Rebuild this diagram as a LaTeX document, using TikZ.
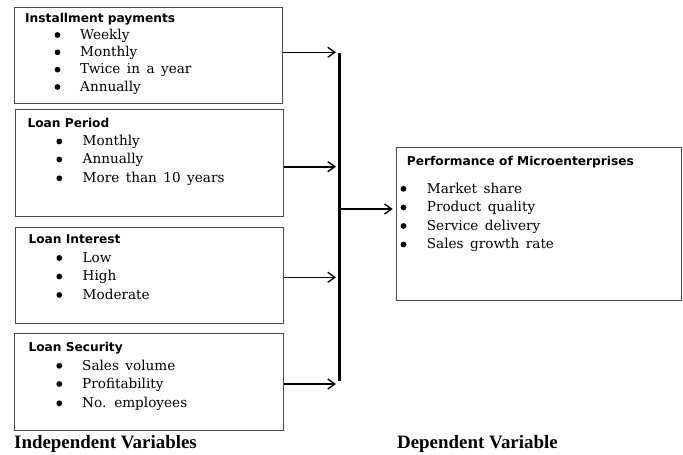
\documentclass[tikz,border=0pt]{standalone}
\usepackage{fontspec}
\setmainfont{DejaVu Serif}
\newfontfamily\itemfont{DejaVu Serif}[WordSpace=1.5]
\newfontfamily\headfont{DejaVu Sans}
\newfontfamily\labfont{Liberation Serif}
\usetikzlibrary{arrows.meta}
\tikzset{
  box/.style={draw=black!70, line width=1pt, inner sep=0pt, anchor=north west},
  head/.style={anchor=base west, inner sep=0pt, font=\headfont\bfseries\fontsize{12.2}{14}\selectfont},
  itemtxt/.style={anchor=base west, inner sep=0pt, yshift=-4.3pt, font=\itemfont\fontsize{13.6}{15}\selectfont},
  dotb/.style={circle, fill=black, inner sep=0pt, minimum size=5.8pt},
  lab/.style={anchor=base west, inner sep=0pt, font=\labfont\bfseries\fontsize{18.9}{21}\selectfont},
  arr/.style={line width=1.6pt, -{Straight Barb[length=7pt, width=10pt, line width=1.4pt]}},
  vline/.style={line width=2.4pt}
}
\begin{document}
\begin{tikzpicture}[x=1pt,y=-1pt]
\useasboundingbox (0,0) rectangle (683,455);
% boxes
\node[box, minimum width=268pt, minimum height=96pt] (b1) at (14,6.5) {};
\node[box, minimum width=268pt, minimum height=107pt] (b2) at (15,109.3) {};
\node[box, minimum width=268pt, minimum height=96pt] (b3) at (15,227) {};
\node[box, minimum width=269pt, minimum height=97pt] (b4) at (14,333.3) {};
\node[box, minimum width=285pt, minimum height=152.5pt] (b5) at (395.7,147) {};
% box 1
\node[head] (h1) at (25,23) {Installment payments};
\node[dotb] (d11) at (57.5,35) {};   \node[itemtxt] (t11) at (80,35) {Weekly};
\node[dotb] (d12) at (57.5,52.3) {}; \node[itemtxt] (t12) at (80,52.3) {Monthly};
\node[dotb] (d13) at (57.5,69.6) {}; \node[itemtxt] (t13) at (80,69.6) {Twice in a year};
\node[dotb] (d14) at (57.5,87) {};   \node[itemtxt] (t14) at (80,87) {Annually};
% box 2
\node[head] (h2) at (27.3,127.3) {Loan Period};
\node[dotb] (d21) at (59.3,141.5) {}; \node[itemtxt] (t21) at (82.5,141.5) {Monthly};
\node[dotb] (d22) at (59.3,159.5) {}; \node[itemtxt] (t22) at (82.5,159.5) {Annually};
\node[dotb] (d23) at (59.3,178.3) {}; \node[itemtxt] (t23) at (82.5,178.3) {More than 10 years};
% box 3
\node[head] (h3) at (28.3,243.3) {Loan Interest};
\node[dotb] (d31) at (59.3,258) {};   \node[itemtxt] (t31) at (82.5,258) {Low};
\node[dotb] (d32) at (59.3,276.5) {}; \node[itemtxt] (t32) at (82.5,276.5) {High};
\node[dotb] (d33) at (59.3,295) {};   \node[itemtxt] (t33) at (82.5,295) {Moderate};
% box 4
\node[head] (h4) at (28.3,351.7) {Loan Security};
\node[dotb] (d41) at (59.3,365.8) {}; \node[itemtxt] (t41) at (82,365.8) {Sales volume};
\node[dotb] (d42) at (59.3,384) {};   \node[itemtxt] (t42) at (82,384) {Profitability};
\node[dotb] (d43) at (59.3,403.3) {}; \node[itemtxt] (t43) at (82,403.3) {No. employees};
% box 5
\node[head] (h5) at (406.7,165) {Performance of Microenterprises};
\node[dotb] (d51) at (403.5,188.8) {}; \node[itemtxt] (t51) at (426.7,188.8) {Market share};
\node[dotb] (d52) at (403.5,207.5) {}; \node[itemtxt] (t52) at (426.7,207.5) {Product quality};
\node[dotb] (d53) at (403.5,226) {};   \node[itemtxt] (t53) at (426.7,226) {Service delivery};
\node[dotb] (d54) at (403.5,244.5) {}; \node[itemtxt] (t54) at (426.7,244.5) {Sales growth rate};
% connectors
\coordinate (vt) at (339.5,52.5);
\coordinate (vb) at (339.5,380.5);
\coordinate (vm) at (339.5,209);
\coordinate (a1) at (336,52.3);
\coordinate (a2) at (336,166.7);
\coordinate (a3) at (336,277.3);
\coordinate (a4) at (336,384);
\draw[vline] (vt) -- (vb);
\draw[arr] (b1.east |- a1) -- (a1);
\draw[arr] (b2.east |- a2) -- (a2);
\draw[arr] (b3.east |- a3) -- (a3);
\draw[arr] (b4.east |- a4) -- (a4);
\draw[arr] (vm) -- ([xshift=-3pt]b5.west |- vm);
% labels
\node[lab] (iv) at (14,448.5) {Independent Variables};
\node[lab] (dv) at (397,448) {Dependent Variable};
\end{tikzpicture}
\end{document}
